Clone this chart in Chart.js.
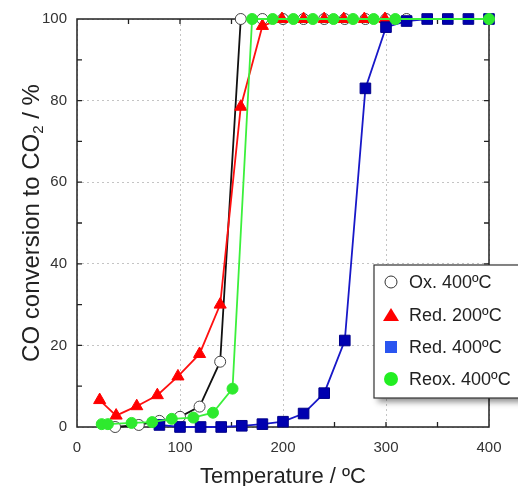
<!DOCTYPE html>
<html>
<head>
<meta charset="utf-8">
<script src="https://cdn.jsdelivr.net/npm/chart.js@4.4.0/dist/chart.umd.min.js"></script>
<style>
html, body { margin: 0; padding: 0; background: #fff; }
</style>
</head>
<body>
<canvas id="co-chart" width="518" height="486"></canvas>
<script>
// values (temperature in ºC, conversion in %)
const oxTemp  = [37, 60, 80, 100, 119, 139, 159, 180, 200, 220, 240, 260, 280, 300, 320];
const oxConv  = [0, 0.5, 1.5, 2.5, 5, 16, 100, 100, 100, 100, 100, 100, 100, 100, 100];

const red200Temp = [22, 38, 58, 78, 98, 119, 139, 159, 180, 199, 220, 240, 259, 279, 299];
const red200Conv = [6.6, 2.8, 5.1, 7.8, 12.4, 17.9, 30, 78.5, 98.3, 100, 100, 100, 100, 100, 100];

const red400Temp = [80, 100, 120, 140, 160, 180, 200, 220, 240, 260, 280, 300, 320, 340, 360, 380, 400];
const red400Conv = [0.5, 0, 0, 0, 0.3, 0.7, 1.3, 3.3, 8.3, 21.2, 83, 98, 99.5, 100, 100, 100, 100];

const reoxTemp = [24, 30, 53, 73, 92, 113, 132, 151, 170, 190, 210, 229, 249, 268, 288, 309, 400];
const reoxConv = [0.7, 0.7, 1, 1.2, 2, 2.3, 3.5, 9.4, 100, 100, 100, 100, 100, 100, 100, 100, 100];

const seriesNames = ['Ox. 400ºC', 'Red. 200ºC', 'Red. 400ºC', 'Reox. 400ºC'];
const xTitle = 'Temperature / ºC';

// minor (inward) tick marks on the frame
const xMinorTicks = [50, 100, 150, 200, 250, 300, 350];
const yMinorTicks = [10, 20, 30, 40, 50, 60, 70, 80, 90];

const FONT = '"Liberation Sans", Arial, sans-serif';

function toPoints(xs, ys) {
    return xs.map((t, i) => ({x: t, y: ys[i]}));
}

// box + inward ticks, drawn under the markers
const framePlugin = {
    id: 'frame',
    beforeDatasetsDraw(chart) {
        const {ctx, chartArea: a, scales: {x, y}} = chart;
        ctx.save();
        ctx.strokeStyle = '#222';
        ctx.lineWidth = 1.5;
        ctx.strokeRect(a.left, a.top, a.right - a.left, a.bottom - a.top);
        ctx.lineWidth = 1.3;
        ctx.beginPath();
        xMinorTicks.forEach(v => {
            const px = x.getPixelForValue(v);
            ctx.moveTo(px, a.bottom); ctx.lineTo(px, a.bottom - 5);
            ctx.moveTo(px, a.top); ctx.lineTo(px, a.top + 5);
        });
        yMinorTicks.forEach(v => {
            const py = y.getPixelForValue(v);
            ctx.moveTo(a.left, py); ctx.lineTo(a.left + 5, py);
            ctx.moveTo(a.right, py); ctx.lineTo(a.right - 5, py);
        });
        ctx.stroke();
        ctx.restore();
    }
};

// axis titles (y one needs a real subscript) and the boxed legend
const labelsPlugin = {
    id: 'labels',
    afterDraw(chart) {
        const {ctx, chartArea: a} = chart;
        ctx.save();
        ctx.fillStyle = '#222';

        // x title
        ctx.font = '22px ' + FONT;
        ctx.textAlign = 'center';
        ctx.textBaseline = 'alphabetic';
        ctx.fillText(xTitle, (a.left + a.right) / 2, 483);

        // y title: CO conversion to CO2 / %
        const big = '24px ' + FONT, small = '15px ' + FONT;
        const p1 = 'CO conversion to CO', p2 = '2', p3 = ' / %';
        ctx.font = big;
        const w1 = ctx.measureText(p1).width, w3 = ctx.measureText(p3).width;
        ctx.font = small;
        const w2 = ctx.measureText(p2).width;
        const total = w1 + w2 + w3;
        ctx.translate(39, (a.top + a.bottom) / 2);
        ctx.rotate(-Math.PI / 2);
        ctx.textAlign = 'left';
        let cx = -total / 2;
        ctx.font = big; ctx.fillText(p1, cx, 0); cx += w1;
        ctx.font = small; ctx.fillText(p2, cx, 4); cx += w2;
        ctx.font = big; ctx.fillText(p3, cx, 0);
        ctx.setTransform(1, 0, 0, 1, 0, 0);

        // legend box with shadow
        const bx = 374, by = 265, bw = 150, bh = 133;
        ctx.save();
        ctx.shadowColor = 'rgba(0,0,0,0.45)';
        ctx.shadowBlur = 6;
        ctx.shadowOffsetX = 4;
        ctx.shadowOffsetY = 4;
        ctx.fillStyle = '#fff';
        ctx.fillRect(bx, by, bw, bh);
        ctx.restore();
        ctx.strokeStyle = '#333';
        ctx.lineWidth = 1.2;
        ctx.strokeRect(bx, by, bw, bh);

        const rows = [282, 315, 347, 379];
        const mx = 391;
        // white circle
        ctx.beginPath(); ctx.arc(mx, rows[0], 6, 0, Math.PI * 2);
        ctx.fillStyle = '#fff'; ctx.fill(); ctx.strokeStyle = '#333'; ctx.lineWidth = 1; ctx.stroke();
        // red triangle
        ctx.beginPath();
        ctx.moveTo(mx, rows[1] - 7); ctx.lineTo(mx + 8, rows[1] + 6); ctx.lineTo(mx - 8, rows[1] + 6); ctx.closePath();
        ctx.fillStyle = '#ff0000'; ctx.fill();
        // blue square
        ctx.fillStyle = '#2a55f0';
        ctx.fillRect(mx - 6, rows[2] - 6, 12, 12);
        // green circle
        ctx.beginPath(); ctx.arc(mx, rows[3], 7, 0, Math.PI * 2);
        ctx.fillStyle = '#22ee22'; ctx.fill();

        ctx.fillStyle = '#222';
        ctx.font = '18px ' + FONT;
        ctx.textAlign = 'left';
        ctx.textBaseline = 'middle';
        seriesNames.forEach((name, i) => ctx.fillText(name, 409, rows[i] + 1));
        ctx.restore();
    }
};

const ctx = document.querySelector('#co-chart').getContext('2d');

new Chart(ctx, {
    type: 'scatter',
    data: {
        datasets: [
            {
                label: seriesNames[0],
                data: toPoints(oxTemp, oxConv),
                showLine: true,
                borderColor: '#111',
                borderWidth: 1.8,
                pointStyle: 'circle',
                pointRadius: 5.5,
                pointBackgroundColor: '#fff',
                pointBorderColor: '#444',
                pointBorderWidth: 1,
                clip: false,
                order: 3
            },
            {
                label: seriesNames[1],
                data: toPoints(red200Temp, red200Conv),
                showLine: true,
                borderColor: '#ff1010',
                borderWidth: 1.8,
                pointStyle: 'triangle',
                pointRadius: 7,
                pointBackgroundColor: '#ff0000',
                pointBorderColor: '#ff0000',
                pointBorderWidth: 1,
                clip: false,
                order: 2
            },
            {
                label: seriesNames[2],
                data: toPoints(red400Temp, red400Conv),
                showLine: true,
                borderColor: '#1818c8',
                borderWidth: 1.8,
                pointStyle: 'rect',
                pointRadius: 7.5,
                pointBackgroundColor: '#0000b0',
                pointBorderColor: '#00008a',
                pointBorderWidth: 1,
                clip: false,
                order: 1
            },
            {
                label: seriesNames[3],
                data: toPoints(reoxTemp, reoxConv),
                showLine: true,
                borderColor: '#3cf03c',
                borderWidth: 1.8,
                pointStyle: 'circle',
                pointRadius: 5.5,
                pointBackgroundColor: '#2eea2e',
                pointBorderColor: '#2eea2e',
                pointBorderWidth: 1,
                clip: false,
                order: 0
            }
        ]
    },
    options: {
        responsive: false,
        animation: false,
        layout: { padding: { top: 17, right: 29, left: 0, bottom: 0 } },
        plugins: { legend: { display: false }, tooltip: { enabled: false } },
        scales: {
            x: {
                type: 'linear',
                min: 0,
                max: 400,
                ticks: { stepSize: 100, padding: 12, color: '#333', font: { size: 15, family: FONT } },
                grid: { color: '#c4c4c4', lineWidth: 1, drawTicks: false },
                border: { display: false, dash: [2, 3] },
                afterFit(scale) { scale.height = 59; }
            },
            y: {
                min: 0,
                max: 100,
                ticks: { stepSize: 20, padding: 10, color: '#333', font: { size: 15, family: FONT } },
                grid: { color: '#c4c4c4', lineWidth: 1, drawTicks: false },
                border: { display: false, dash: [2, 3] },
                afterFit(scale) { scale.width = 77; }
            }
        }
    },
    plugins: [framePlugin, labelsPlugin]
});
</script>
</body>
</html>
